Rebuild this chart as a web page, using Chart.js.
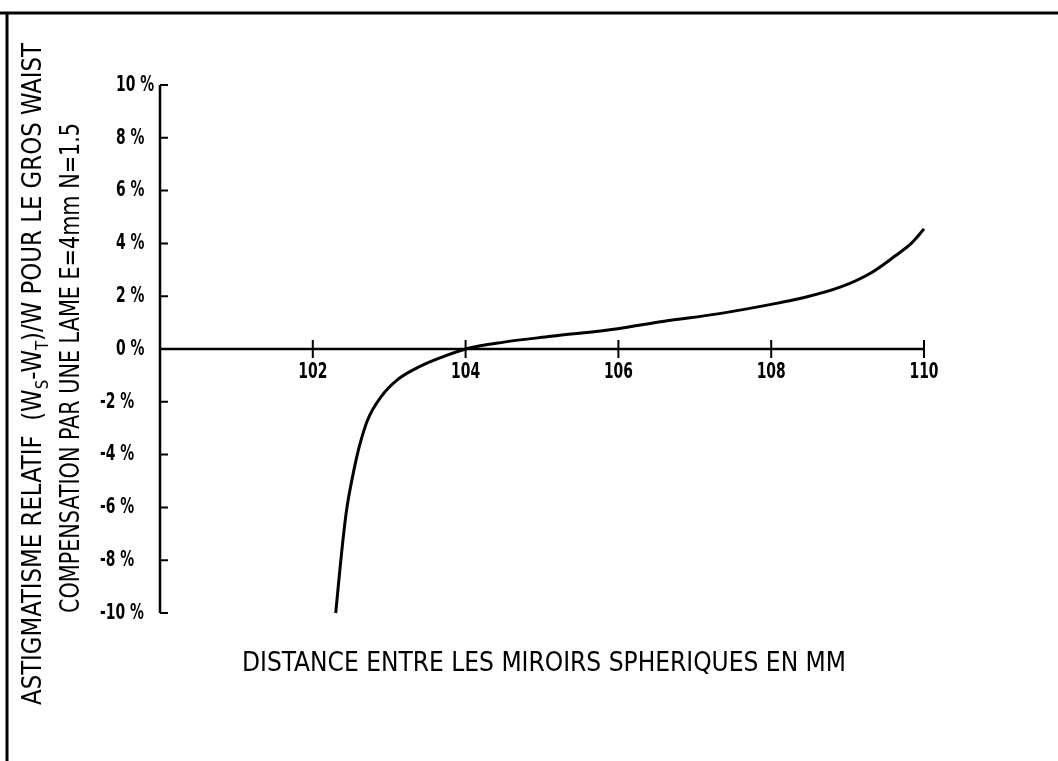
<!DOCTYPE html>
<html>
<head>
<meta charset="utf-8">
<title>Astigmatisme relatif</title>
<script src="https://cdn.jsdelivr.net/npm/chart.js@4/dist/chart.umd.min.js"></script>
<style>
  html, body { margin: 0; padding: 0; background: #fff; }
  canvas { display: block; }
</style>
</head>
<body>
<canvas id="canvas" width="1058" height="761"></canvas>
<script>
// distance between the spherical mirrors (mm) and relative astigmatism (%)
var distance = [102.30, 102.36, 102.41, 102.45, 102.54, 102.61, 102.72, 102.89, 103.11, 103.41, 103.70, 104.00,
                104.50, 105.12, 105.99, 106.60, 107.30, 108.00, 108.39, 108.92, 109.31, 109.62, 109.84, 110.00];
var astigmatism = [-10.0, -8.2, -6.84, -5.95, -4.56, -3.68, -2.67, -1.82, -1.16, -0.65, -0.30, 0.0,
                   0.26, 0.48, 0.77, 1.05, 1.33, 1.69, 1.92, 2.36, 2.89, 3.52, 4.02, 4.55];

var xTicks = [102, 104, 106, 108, 110];
var yTicks = [10, 8, 6, 4, 2, 0, -2, -4, -6, -8, -10];

var xTitle = 'DISTANCE ENTRE LES MIROIRS SPHERIQUES EN MM';
// [text, subscript?]
var yTitle1 = [['ASTIGMATISME RELATIF  (W', false], ['S', true], ['-W', false], ['T', true], [')/W POUR LE GROS WAIST', false]];
var yTitle2 = [['COMPENSATION PAR UNE LAME E=4mm N=1.5', false]];

var INK = '#000';
var tickFont = 'bold 22px "DejaVu Sans Condensed", "Liberation Sans Narrow", "DejaVu Sans", sans-serif';
var titleFont = '26px "DejaVu Sans Condensed", "Liberation Sans Narrow", "DejaVu Sans", sans-serif';
var subFont = '17px "DejaVu Sans Condensed", "Liberation Sans Narrow", "DejaVu Sans", sans-serif';

function runsWidth(ctx, runs) {
    var w = 0;
    runs.forEach(function(r) {
        ctx.font = r[1] ? subFont : titleFont;
        w += ctx.measureText(r[0]).width;
    });
    return w;
}

// draws a run list centred on (cx, cy), squeezed to the given length
function drawRuns(ctx, runs, cx, cy, length, angle) {
    ctx.save();
    ctx.translate(cx, cy);
    ctx.rotate(angle);
    var w = runsWidth(ctx, runs);
    ctx.scale(length / w, 1);
    ctx.textAlign = 'left';
    ctx.textBaseline = 'middle';
    var x = -w / 2;
    runs.forEach(function(r) {
        ctx.font = r[1] ? subFont : titleFont;
        ctx.fillText(r[0], x, r[1] ? 10 : 0);
        x += ctx.measureText(r[0]).width;
    });
    ctx.restore();
}

var plotterFrame = {
    id: 'plotterFrame',
    beforeDatasetsDraw: function(chart) {
        var ctx = chart.ctx;
        var xs = chart.scales.x, ys = chart.scales.y;
        var x0 = xs.getPixelForValue(100);
        var y0 = ys.getPixelForValue(0);
        ctx.save();
        ctx.strokeStyle = INK;
        ctx.lineCap = 'butt';

        // sheet frame
        ctx.lineWidth = 3;
        ctx.beginPath();
        ctx.moveTo(0, 13); ctx.lineTo(chart.width, 13);
        ctx.moveTo(7, 12); ctx.lineTo(7, chart.height);
        ctx.stroke();

        // axes
        ctx.lineWidth = 2.5;
        ctx.beginPath();
        ctx.moveTo(x0, ys.getPixelForValue(10));
        ctx.lineTo(x0, ys.getPixelForValue(-10));
        ctx.moveTo(x0, y0);
        ctx.lineTo(xs.getPixelForValue(110), y0);
        ctx.stroke();

        ctx.lineWidth = 2;
        ctx.beginPath();
        yTicks.forEach(function(v) {
            var y = ys.getPixelForValue(v);
            ctx.moveTo(x0, y); ctx.lineTo(x0 + 8, y);
        });
        xTicks.forEach(function(v) {
            var x = xs.getPixelForValue(v);
            ctx.moveTo(x, y0 - 9); ctx.lineTo(x, y0 + 9);
        });
        ctx.stroke();
        ctx.restore();
    },
    afterDraw: function(chart) {
        var ctx = chart.ctx;
        var xs = chart.scales.x, ys = chart.scales.y;
        var y0 = ys.getPixelForValue(0);
        ctx.save();
        ctx.fillStyle = INK;

        // tick labels, narrow plotter lettering
        ctx.font = tickFont;
        var sx = 29 / ctx.measureText('102').width;
        ctx.textBaseline = 'middle';
        yTicks.forEach(function(v) {
            var y = ys.getPixelForValue(v);
            ctx.save();
            ctx.translate(v < 0 ? 100 : 116, y);
            ctx.scale(sx, 1);
            ctx.textAlign = 'left';
            ctx.fillText(v + ' %', 0, 0);
            ctx.restore();
        });
        ctx.textBaseline = 'alphabetic';
        xTicks.forEach(function(v) {
            ctx.save();
            ctx.translate(xs.getPixelForValue(v), y0 + 29);
            ctx.scale(sx, 1);
            ctx.textAlign = 'center';
            ctx.fillText(String(v), 0, 0);
            ctx.restore();
        });

        // axis titles
        drawRuns(ctx, [[xTitle, false]], 544, 664, 604, 0);
        drawRuns(ctx, yTitle1, 34, 374, 662, -Math.PI / 2);
        drawRuns(ctx, yTitle2, 72, 368, 490, -Math.PI / 2);
        ctx.restore();
    }
};

var config = {
    type: 'scatter',
    data: {
        datasets: [{
            data: distance.map(function(d, i) { return { x: d, y: astigmatism[i] }; }),
            showLine: true,
            borderColor: INK,
            borderWidth: 3,
            pointRadius: 0,
            cubicInterpolationMode: 'monotone',
            clip: false
        }]
    },
    options: {
        responsive: false,
        animation: false,
        layout: {
            padding: { left: 160, right: 134, top: 85, bottom: 148 }
        },
        plugins: {
            legend: { display: false },
            tooltip: { enabled: false }
        },
        scales: {
            x: { type: 'linear', min: 100, max: 110, display: false },
            y: { type: 'linear', min: -10, max: 10, display: false }
        }
    },
    plugins: [plotterFrame]
};

window.myChart = new Chart(document.getElementById('canvas'), config);
</script>
</body>
</html>
